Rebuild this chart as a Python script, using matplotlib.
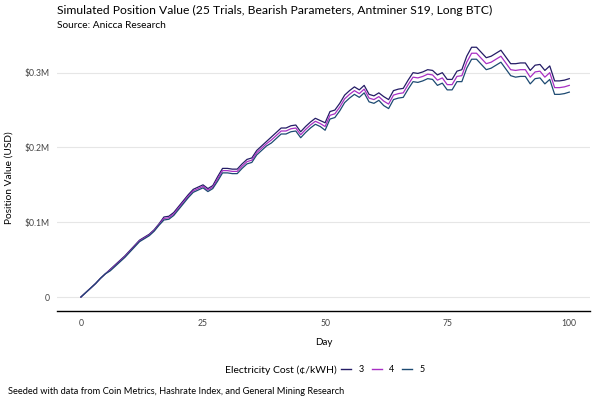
import matplotlib
matplotlib.use("Agg")
import matplotlib.pyplot as plt
from matplotlib.ticker import FuncFormatter
from matplotlib.lines import Line2D

plt.rcParams["font.family"] = ["Lato", "DejaVu Sans"]

days = list(range(101))

# position value in thousands of USD
cost_3 = [0, 6, 12, 18, 25, 31, 37, 43, 49, 55,
          62, 69, 76, 80, 84, 90, 98, 107, 108, 113,
          121, 129, 137, 144, 147, 150, 145, 149, 161, 172,
          172, 171, 171, 178, 184, 186, 196, 202, 208, 214,
          220, 226, 226, 229, 230, 221, 228, 234, 239, 236,
          233, 248, 250, 259, 270, 276, 281, 277, 283, 271,
          269, 273, 268, 264, 276, 278, 279, 290, 300, 299,
          301, 304, 303, 297, 300, 291, 291, 302, 304, 322,
          334, 334, 327, 320, 322, 326, 330, 321, 312, 312,
          313, 313, 303, 310, 311, 303, 309, 289, 289, 290,
          292]
cost_4 = [0, 6, 12, 18, 25, 31, 36, 42, 48, 54,
          61, 68, 75, 79, 83, 89, 97, 105, 106, 111,
          119, 127, 135, 142, 145, 148, 143, 147, 158, 169,
          169, 168, 168, 175, 181, 183, 193, 199, 205, 210,
          216, 222, 222, 225, 226, 217, 224, 230, 235, 232,
          228, 243, 245, 254, 265, 271, 276, 272, 278, 266,
          264, 268, 262, 258, 270, 272, 273, 284, 294, 293,
          295, 298, 297, 290, 293, 284, 284, 295, 296, 314,
          326, 326, 319, 312, 314, 318, 322, 313, 304, 303,
          304, 304, 294, 301, 302, 294, 300, 280, 280, 281,
          283]
cost_5 = [0, 6, 12, 18, 25, 31, 35, 41, 47, 53,
          60, 67, 74, 78, 82, 88, 96, 103, 104, 109,
          117, 125, 133, 140, 143, 146, 141, 145, 155, 166,
          166, 165, 165, 172, 178, 180, 190, 196, 202, 206,
          212, 218, 218, 221, 222, 213, 220, 226, 231, 228,
          223, 238, 240, 249, 260, 266, 271, 267, 273, 261,
          259, 263, 256, 252, 264, 266, 267, 278, 288, 287,
          289, 292, 291, 283, 286, 277, 277, 288, 288, 306,
          318, 318, 311, 304, 306, 310, 314, 305, 296, 294,
          295, 295, 285, 292, 293, 285, 291, 271, 271, 272,
          274]

series_labels = ["3", "4", "5"]
colors = ["#241c66", "#a82fc4", "#1d4a72"]

fig = plt.figure(figsize=(6, 4), dpi=100)
ax = fig.add_axes([0.095, 0.2225, 0.888, 0.665])

for vals, lab, col in zip([cost_3, cost_4, cost_5], series_labels, colors):
    ax.plot(days, [v * 1000 for v in vals], color=col, lw=0.9, label=lab)

ax.set_xlim(-4.9, 104.2)
ax.set_ylim(-18700, 337000)
ax.set_xticks([0, 25, 50, 75, 100])
ax.set_yticks([0, 100000, 200000, 300000])
ax.yaxis.set_major_formatter(FuncFormatter(lambda v, _: "0" if v == 0 else f"${v / 1e6:.1f}M"))
ax.grid(axis="y", color="#e6e6e6", lw=0.8)
ax.set_axisbelow(True)
for s in ["top", "right", "left"]:
    ax.spines[s].set_visible(False)
ax.spines["bottom"].set_color("black")
ax.spines["bottom"].set_linewidth(1.0)
ax.tick_params(length=0, labelsize=6.2, labelcolor="#444444")
ax.tick_params(axis="y", pad=5)
ax.tick_params(axis="x", pad=6)
ax.set_xlabel("Day", fontsize=7, labelpad=7)
ax.set_ylabel("Position Value (USD)", fontsize=7.3, labelpad=8)

fig.text(0.095, 0.975, "Simulated Position Value (25 Trials, Bearish Parameters, Antminer S19, Long BTC)",
         fontsize=8.7, va="center", ha="left")
fig.text(0.095, 0.937, "Source: Anicca Research", fontsize=7.3, va="center", ha="left")

fig.text(0.375, 0.075, "Electricity Cost (\u00a2/kWH)", fontsize=7.5, va="center", ha="left")
handles = [Line2D([], [], color=c, lw=1.0) for c in colors]
fig.legend(handles, series_labels, loc="center left", bbox_to_anchor=(0.555, 0.075), ncol=3,
           frameon=False, fontsize=6.5, handlelength=1.1, handletextpad=0.8, columnspacing=0.9)

fig.text(0.013, 0.02, "Seeded with data from Coin Metrics, Hashrate Index, and General Mining Research",
         fontsize=6.7, va="center", ha="left")

fig.savefig("out.png", dpi=100)
